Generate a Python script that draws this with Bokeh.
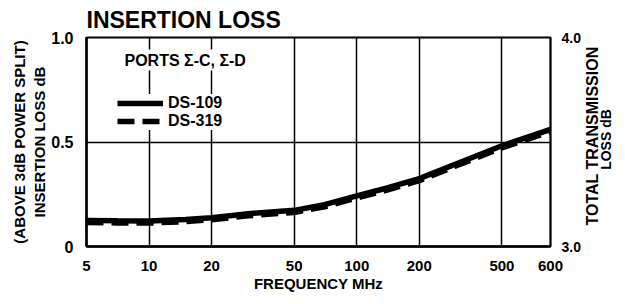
from math import pi
from bokeh.plotting import figure
from bokeh.layouts import row
from bokeh.models import (LinearAxis, Range1d, FixedTicker, Label, Legend, LegendItem,
                          ColumnDataSource, PrintfTickFormatter)
from bokeh.embed import file_html
from bokeh.resources import INLINE

FONT = "Liberation Sans"

# ---- data ----
freq_mhz = [5, 7, 10, 15, 20, 30, 50, 70, 100, 140, 200, 300, 500, 857]
loss_ds109 = [0.125, 0.123, 0.122, 0.129, 0.138, 0.157, 0.173, 0.200, 0.242, 0.280, 0.325, 0.395, 0.482, 0.560]
loss_ds319 = [0.115, 0.113, 0.112, 0.119, 0.128, 0.147, 0.163, 0.190, 0.232, 0.270, 0.315, 0.385, 0.472, 0.550]

x_tick_values = [5, 10, 20, 50, 100, 200, 500, 857]
x_tick_labels = ["5", "10", "20", "50", "100", "200", "500", "600"]
left_tick_values = [0, 0.5, 1]
left_tick_labels = ["0", "0.5", "1.0"]
right_tick_values = [3, 4]

X_START, X_END = 5, 857

FRAME_H = 209
TOP, BOTTOM = 37, 42

p = figure(x_axis_type="log", x_range=Range1d(X_START, X_END), y_range=Range1d(0, 1),
           frame_width=464, frame_height=FRAME_H,
           min_border_left=86, min_border_right=28, min_border_top=TOP, min_border_bottom=BOTTOM,
           output_backend="svg", toolbar_location=None)
p.background_fill_color = "white"
p.border_fill_color = "white"
p.outline_line_color = "black"
p.outline_line_width = 2

# title
p.title.text = "INSERTION LOSS"
p.title.text_font = FONT
p.title.text_font_style = "bold"
p.title.text_font_size = "23px"
p.title.text_color = "black"
p.title.align = "left"
p.title.offset = 0
p.title.standoff = 9

# x axis
xa = p.xaxis[0]
xa.ticker = FixedTicker(ticks=x_tick_values)
xa.major_label_overrides = dict(zip(x_tick_values, x_tick_labels))
xa.major_tick_line_color = None
xa.minor_tick_line_color = None
xa.axis_line_color = "black"
xa.axis_line_width = 2.5
xa.major_label_text_font = FONT
xa.major_label_text_font_style = "bold"
xa.major_label_text_font_size = "15px"
xa.major_label_text_color = "black"
xa.major_label_standoff = 8
xa.axis_label = "FREQUENCY MHz"
xa.axis_label_text_font = FONT
xa.axis_label_text_font_style = "bold"
xa.axis_label_text_font_size = "15px"
xa.axis_label_text_color = "black"
xa.axis_label_standoff = 1

# left axis
ya = p.yaxis[0]
ya.ticker = FixedTicker(ticks=left_tick_values)
ya.major_label_overrides = dict(zip(left_tick_values, left_tick_labels))
ya.major_tick_line_color = None
ya.minor_tick_line_color = None
ya.axis_line_color = "black"
ya.axis_line_width = 2.5
ya.major_label_text_font = FONT
ya.major_label_text_font_style = "bold"
ya.major_label_text_font_size = "16px"
ya.major_label_text_color = "black"
ya.major_label_standoff = 7
ya.axis_label = "(ABOVE 3dB POWER SPLIT)\nINSERTION LOSS dB"
ya.axis_label_text_font = FONT
ya.axis_label_text_font_style = "bold"
ya.axis_label_text_font_size = "15px"
ya.axis_label_text_color = "black"
ya.axis_label_standoff = 0

# right axis (ticks only; its title is drawn in the strip to the right)
p.extra_y_ranges = {"total": Range1d(3, 4)}
ra = LinearAxis(y_range_name="total", ticker=FixedTicker(ticks=right_tick_values),
                formatter=PrintfTickFormatter(format="%.1f"))
ra.major_tick_line_color = None
ra.minor_tick_line_color = None
ra.axis_line_color = "black"
ra.axis_line_width = 1.5
ra.major_label_text_font = FONT
ra.major_label_text_font_style = "bold"
ra.major_label_text_font_size = "14px"
ra.major_label_text_color = "black"
ra.major_label_standoff = 5
p.add_layout(ra, "right")

# grids
p.xgrid.ticker = FixedTicker(ticks=x_tick_values)
p.xgrid.grid_line_color = "black"
p.xgrid.grid_line_width = 1.5
p.ygrid.ticker = FixedTicker(ticks=[0.5])
p.ygrid.grid_line_color = "black"
p.ygrid.grid_line_width = 1.5

src = ColumnDataSource(dict(f=freq_mhz, a=loss_ds109, b=loss_ds319))
r319 = p.line("f", "b", source=src, line_color="black", line_width=5.5, line_dash="17 8")
r109 = p.line("f", "a", source=src, line_color="black", line_width=5.5)

legend = Legend(items=[LegendItem(label="DS-109", renderers=[r109]),
                       LegendItem(label="DS-319", renderers=[r319])],
                location=(31, 116), orientation="vertical",
                padding=0, margin=0, spacing=0,
                glyph_width=46, glyph_height=16, label_height=16, label_standoff=5,
                border_line_color=None, background_fill_color="white", background_fill_alpha=1.0,
                label_text_font=FONT, label_text_font_style="bold", label_text_font_size="16px",
                label_text_color="black")
p.add_layout(legend, "center")

header = Label(x=36, y=176, x_units="screen", y_units="screen", text="PORTS \u03a3-C, \u03a3-D",
               text_font=FONT, text_font_style="bold", text_font_size="16px", text_color="black",
               background_fill_color="white", padding=2)
p.add_layout(header)

# narrow strip carrying the right-hand axis title (reads bottom to top)
p2 = figure(frame_width=31, frame_height=FRAME_H, x_range=Range1d(0, 1), y_range=Range1d(0, 1),
            x_axis_location=None, y_axis_location=None,
            min_border_left=0, min_border_right=0, min_border_top=TOP, min_border_bottom=BOTTOM,
            output_backend="svg", toolbar_location=None)
p2.grid.visible = False
p2.outline_line_color = None
p2.background_fill_color = "white"
p2.border_fill_color = "white"
for txt, sx, sy, size in [("TOTAL TRANSMISSION", 8.5, 110.5, "16px"), ("LOSS dB", 22, 107, "14px")]:
    p2.add_layout(Label(x=sx, y=sy, x_units="screen", y_units="screen", text=txt, angle=pi / 2,
                        text_font=FONT, text_font_style="bold", text_font_size=size,
                        text_color="black", text_align="center", text_baseline="middle"))

layout = row(p, p2, spacing=0)
open("out.html", "w").write(file_html(layout, INLINE))
